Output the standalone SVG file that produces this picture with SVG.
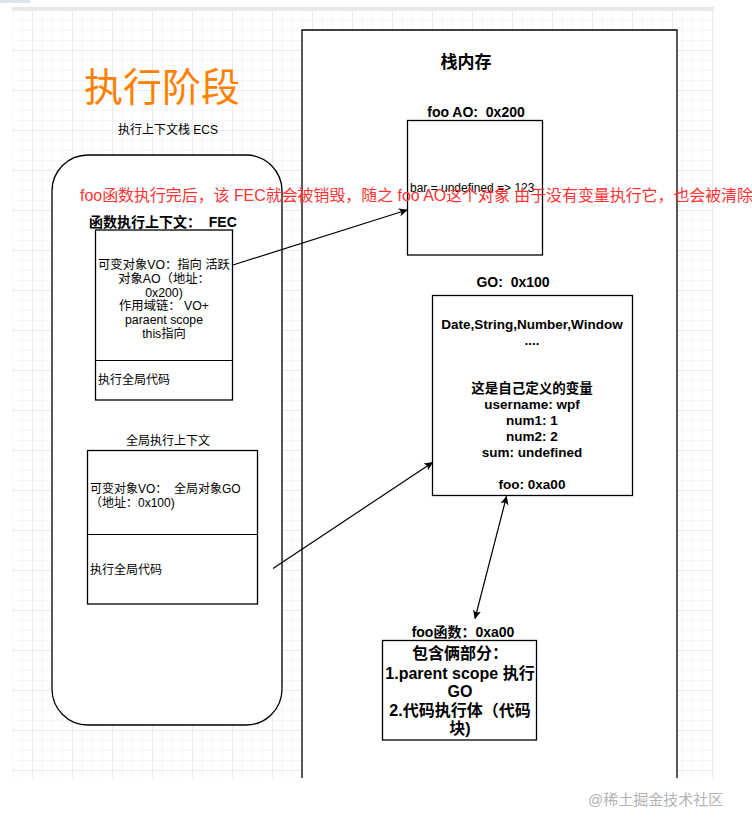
<svg xmlns="http://www.w3.org/2000/svg" width="752" height="831" viewBox="0 0 752 831">
<style>
.t{font-family:"Liberation Sans","Noto Sans CJK SC",sans-serif;fill:#000}
.b{font-weight:bold}
.box{fill:#fff;stroke:#000;stroke-width:1.3}
.ln{fill:none;stroke:#000;stroke-width:1.2}
</style>
<defs>
<pattern id="grid" patternUnits="userSpaceOnUse" x="-8" y="10" width="40" height="40">
<path d="M10.5 0V40M20.5 0V40M30.5 0V40M0 10.5H40M0 20.5H40M0 30.5H40" stroke="#f6f6f6" stroke-width="1" fill="none"/>
<path d="M0.5 0V40M0 0.5H40" stroke="#ebebeb" stroke-width="1" fill="none"/>
</pattern>
<marker id="ah" viewBox="0 0 10 10" refX="9" refY="5" markerWidth="9" markerHeight="9" markerUnits="userSpaceOnUse" orient="auto-start-reverse">
<path d="M0 0.5L10 5L0 9.5L2.5 5Z" fill="#000"/>
</marker>
</defs>
<rect width="752" height="831" fill="#fff"/>
<rect x="0" y="0" width="30" height="3" fill="#dde4ec"/>
<rect x="12" y="10" width="702" height="768" fill="url(#grid)"/>
<rect x="12" y="7" width="702" height="3" fill="#e8e8e8"/>

<g id="title"><text class="t" x="162" y="101" font-size="39" text-anchor="middle" style="fill:#ff8000">执行阶段</text></g>
<g id="ecs-label"><text class="t" x="168" y="134" font-size="12" text-anchor="middle">执行上下文栈 ECS</text></g>

<g id="ecs"><rect x="52" y="155" width="230" height="570" rx="36" ry="36" class="box"/></g>

<g id="stack"><path d="M302 778V30H677V778" class="box"/>
<text class="t b" x="466" y="68" font-size="17" text-anchor="middle">栈内存</text></g>

<g id="fec">
<text class="t b" x="89" y="227" font-size="14">函数执行上下文：&#160; FEC</text>
<rect x="95.5" y="230" width="137" height="170" class="box"/>
<line x1="95.5" y1="360.5" x2="232.5" y2="360.5" class="ln"/>
<g class="t" font-size="12.3" text-anchor="middle">
<text x="164" y="269">可变对象VO：指向 活跃</text>
<text x="164" y="283">对象AO（地址：</text>
<text x="164" y="297">0x200)</text>
<text x="164" y="310">作用域链： VO+</text>
<text x="164" y="324">paraent scope</text>
<text x="164" y="338">this指向</text>
</g>
<text class="t" x="98" y="384" font-size="12">执行全局代码</text>
</g>

<g id="gec">
<text class="t" x="168" y="445" font-size="12" text-anchor="middle">全局执行上下文</text>
<rect x="87.5" y="450.5" width="170" height="153.5" class="box"/>
<line x1="87.5" y1="534.5" x2="257.5" y2="534.5" class="ln"/>
<text class="t" x="90" y="493" font-size="12">可变对象VO：&#160; 全局对象GO</text>
<text class="t" x="90" y="507" font-size="12">（地址：0x100)</text>
<text class="t" x="90" y="574" font-size="12">执行全局代码</text>
</g>

<g id="ao">
<text class="t b" x="476" y="117" font-size="14" text-anchor="middle">foo AO:&#160; 0x200</text>
<rect x="407.5" y="120.5" width="135" height="134.5" class="box"/>
<text class="t" x="410" y="192" font-size="12">bar = undefined =&gt; 123</text>
</g>

<g id="go">
<text class="t b" x="513" y="287" font-size="14" text-anchor="middle">GO:&#160; 0x100</text>
<rect x="432.5" y="295.5" width="200" height="200" class="box"/>
<g class="t b" font-size="13.5" text-anchor="middle">
<text x="532" y="329">Date,String,Number,Window</text>
<text x="532" y="345">....</text>
<text x="532" y="393">这是自己定义的变量</text>
<text x="532" y="409">username: wpf</text>
<text x="532" y="425">num1: 1</text>
<text x="532" y="441">num2: 2</text>
<text x="532" y="457">sum: undefined</text>
<text x="532" y="488.5">foo: 0xa00</text>
</g>
</g>

<g id="foofn">
<text class="t b" x="463" y="637" font-size="14" text-anchor="middle">foo函数：0xa00</text>
<rect x="382.5" y="640.5" width="154" height="99.5" class="box"/>
<g class="t b" font-size="16" text-anchor="middle">
<text x="460" y="659">包含俩部分：</text>
<text x="460" y="678.5">1.parent scope 执行</text>
<text x="460" y="697">GO</text>
<text x="460" y="716">2.代码执行体（代码</text>
<text x="460" y="734">块)</text>
</g>
</g>

<g id="connectors">
<line x1="233" y1="265" x2="407" y2="210" class="ln" marker-end="url(#ah)"/>
<line x1="273" y1="568.5" x2="432.5" y2="462.5" class="ln" marker-end="url(#ah)"/>
<line x1="506.5" y1="496.5" x2="475" y2="618.5" class="ln" marker-start="url(#ah)" marker-end="url(#ah)"/>
</g>

<g id="note"><text class="t" x="80" y="201" font-size="16" textLength="673" lengthAdjust="spacingAndGlyphs" style="fill:#ff3333">foo函数执行完后，该 FEC就会被销毁，随之 foo AO这个对象 由于没有变量执行它，也会被清除</text></g>

<g id="watermark"><text class="t" x="588" y="805" font-size="15" style="fill:#b3b3b3">@稀土掘金技术社区</text></g>
</svg>
